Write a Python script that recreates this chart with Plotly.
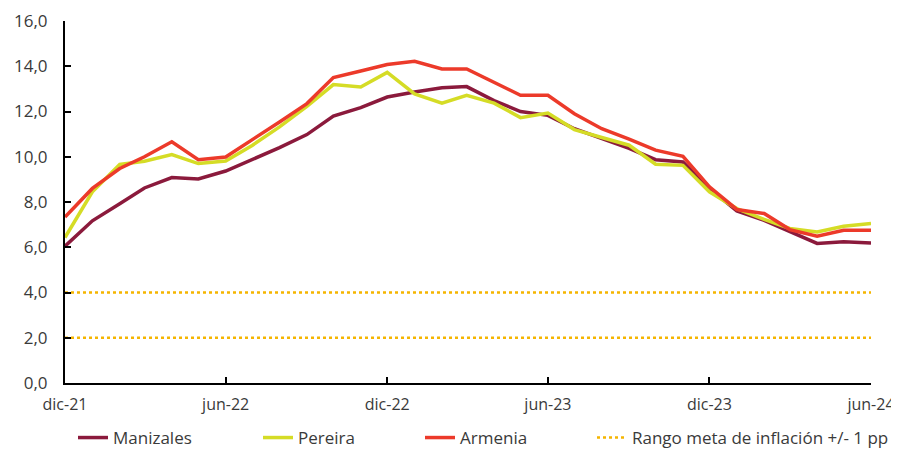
import pandas as pd
import plotly.graph_objects as go

months = pd.date_range("2021-12-01", "2024-06-01", freq="MS")

manizales = [6.05, 7.17, 7.92, 8.62, 9.08, 9.02, 9.37, 9.87, 10.40, 10.98, 11.80, 12.17,
             12.64, 12.86, 13.05, 13.10, 12.48, 12.00, 11.83, 11.24, 10.80, 10.37, 9.87, 9.77,
             8.60, 7.60, 7.19, 6.68, 6.17, 6.24, 6.19]
pereira = [6.43, 8.45, 9.66, 9.80, 10.10, 9.70, 9.81, 10.50, 11.32, 12.23, 13.19, 13.08,
           13.73, 12.78, 12.37, 12.72, 12.37, 11.73, 11.93, 11.20, 10.85, 10.51, 9.67, 9.62,
           8.45, 7.71, 7.23, 6.83, 6.68, 6.93, 7.05]
armenia = [7.34, 8.60, 9.48, 10.00, 10.66, 9.87, 9.99, 10.73, 11.54, 12.35, 13.50, 13.79,
           14.08, 14.22, 13.88, 13.88, 13.30, 12.72, 12.72, 11.90, 11.24, 10.78, 10.29, 10.02,
           8.67, 7.67, 7.49, 6.78, 6.49, 6.75, 6.75]
meta_sup = 4.0
meta_inf = 2.0

tick_dates = ["2021-12-01", "2022-06-01", "2022-12-01", "2023-06-01", "2023-12-01", "2024-06-01"]
tick_labels = ["dic-21", "jun-22", "dic-22", "jun-23", "dic-23", "jun-24"]

FONT = "Open Sans"
TXT = "#3a3a3a"
W, H = 891, 442  # page body adds an 8px offset in the 899x450 window

fig = go.Figure()
fig.add_trace(go.Scatter(x=months, y=[meta_sup] * len(months), mode="lines",
                         line=dict(color="#f5b500", width=2.5, dash="dot"),
                         name="Rango meta de inflación +/- 1 pp", legend="legend4"))
fig.add_trace(go.Scatter(x=months, y=[meta_inf] * len(months), mode="lines",
                         line=dict(color="#f5b500", width=2.5, dash="dot"),
                         showlegend=False, legend="legend4"))
fig.add_trace(go.Scatter(x=months, y=manizales, mode="lines", name="Manizales",
                         line=dict(color="#8b1a3c", width=3.5), legend="legend",
                         showlegend=True))
fig.add_trace(go.Scatter(x=months, y=pereira, mode="lines", name="Pereira",
                         line=dict(color="#d5dc26", width=3.5), legend="legend2"))
fig.add_trace(go.Scatter(x=months, y=armenia, mode="lines", name="Armenia",
                         line=dict(color="#ec3a2a", width=3.5), legend="legend3"))

def leg(xpx):
    return dict(x=xpx / W, y=1 - 430 / H, xref="container", yref="container",
                xanchor="left", yanchor="middle", bgcolor="rgba(0,0,0,0)",
                font=dict(family=FONT, size=17, color=TXT), itemwidth=30,
                visible=True)

fig.update_layout(
    width=W, height=H,
    showlegend=True,
    margin=dict(l=57, r=28, t=13, b=67, autoexpand=False),
    paper_bgcolor="white", plot_bgcolor="white",
    separators=",.",
    font=dict(family=FONT, size=17, color=TXT),
    legend=leg(65), legend2=leg(250), legend3=leg(412), legend4=leg(584),
    xaxis=dict(range=["2021-12-01", "2024-06-01"], tickvals=tick_dates, ticktext=tick_labels,
               showgrid=False, zeroline=False, showline=True, linecolor="black", linewidth=2,
               ticks="inside", ticklen=6, tickwidth=2, tickcolor="black",
               ticklabelstandoff=6,
               tickfont=dict(family=FONT, size=16, color=TXT)),
    yaxis=dict(range=[0, 16], dtick=2, tickformat=".1f",
               showgrid=False, zeroline=False, showline=True, linecolor="black", linewidth=2,
               ticks="inside", ticklen=6, tickwidth=2, tickcolor="black",
               ticklabelstandoff=12,
               tickfont=dict(family=FONT, size=17, color=TXT)),
)

fig.write_html("out.html")
